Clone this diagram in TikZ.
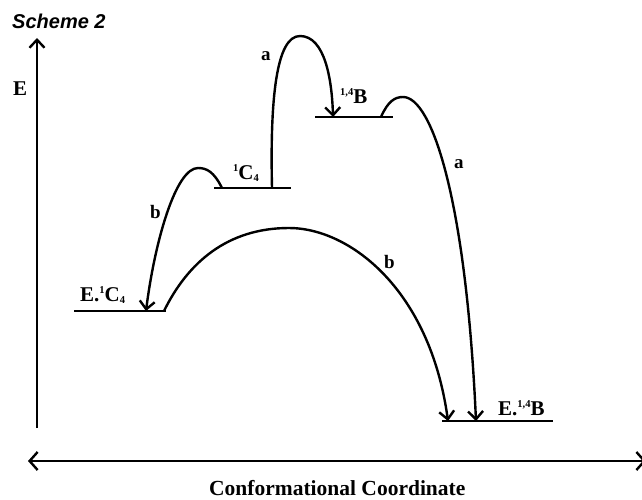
\documentclass[tikz,border=0pt]{standalone}
\usepackage{fontspec}
\setmainfont{Liberation Serif}
\newfontfamily\schemefont{Liberation Sans}
\usetikzlibrary{arrows.meta}
\newcommand\supx[1]{\raisebox{0.75ex}{\fontsize{10.5}{10.5}\selectfont #1}}
\newcommand\subx[1]{\raisebox{-0.25ex}{\fontsize{10.5}{10.5}\selectfont #1}}
\begin{document}
\begin{tikzpicture}[x=1pt,y=-1pt,line width=2.4pt,
  tip/.style={-{Straight Barb[length=8pt,width=15pt]}},
  lvl/.style={line width=2.8pt},
  lbl/.style={inner sep=0pt,anchor=base west,font=\fontsize{21}{21}\selectfont\bfseries},
  let/.style={inner sep=0pt,anchor=base west,font=\fontsize{19}{19}\selectfont\bfseries}]
\useasboundingbox (0,0) rectangle (642,499);
% axes
\coordinate (ybot) at (37,428);
\coordinate (ytop) at (37,38);
\draw[tip] (ybot) -- (ytop);
\coordinate (xl) at (28,461);
\coordinate (xr) at (646,461);
\draw[{Straight Barb[length=8pt,width=18pt]}-{Straight Barb[length=8pt,width=18pt]}] (xl) -- (xr);
\node[inner sep=0pt,anchor=base west,font=\schemefont\fontsize{20}{20}\selectfont\bfseries\itshape] (title) at (11,28) {Scheme 2};
\node[lbl,font=\fontsize{21}{21}\selectfont\bfseries] (E) at (12,95) {E};
\node[inner sep=0pt,anchor=base west,font=\fontsize{21.5}{21.5}\selectfont\bfseries] (xlab) at (208,495) {Conformational Coordinate};
% levels
\coordinate (l1a) at (74,311); \coordinate (l1b) at (166,311);
\coordinate (l2a) at (214,188); \coordinate (l2b) at (291,188);
\coordinate (l3a) at (315,117); \coordinate (l3b) at (393,117);
\coordinate (l4a) at (442,421); \coordinate (l4b) at (553,421);
\draw[lvl] (l1a) -- (l1b);
\draw[lvl] (l2a) -- (l2b);
\draw[lvl] (l3a) -- (l3b);
\draw[lvl] (l4a) -- (l4b);
\node[lbl] (n1) at (79,301) {E.\supx{1}C\subx{4}};
\node[lbl] (n2) at (232,179) {\supx{1}C\subx{4}};
\node[lbl] (n3) at (339,103) {\supx{1,4}B};
\node[lbl] (n4) at (497,415) {E.\supx{1,4}B};
% curve endpoints
\coordinate (bs1) at (222,188);
\coordinate (bp1) at (198,168);
\coordinate (be1) at (146,311);
\coordinate (bs2) at (164,311);
\coordinate (bp2) at (289,228);
\coordinate (be2) at (448,421);
\coordinate (as1) at (272,188);
\coordinate (ap1) at (300,36);
\coordinate (ae1) at (333,117);
\coordinate (as2) at (381,117);
\coordinate (ap2) at (403,97);
\coordinate (ae2) at (476,421);
\draw[tip] (bs1) .. controls (214,172) and (207,168) .. (bp1)
  .. controls (176,168) and (155,240) .. (be1);
\draw[tip] (bs2) .. controls (188,262) and (228,228) .. (bp2)
  .. controls (350,228) and (430,290) .. (be2);
\draw[tip] (as1) .. controls (270,100) and (276,36) .. (ap1)
  .. controls (325,36) and (332,80) .. (ae1);
\draw[tip] (as2) .. controls (388,101) and (395,97) .. (ap2)
  .. controls (432,97) and (466,200) .. (ae2);
\node[let] (la1) at (260,60) {a};
\node[let] (la2) at (453,168) {a};
\node[let] (lb1) at (149,218) {b};
\node[let] (lb2) at (383,268) {b};
\end{tikzpicture}
\end{document}
